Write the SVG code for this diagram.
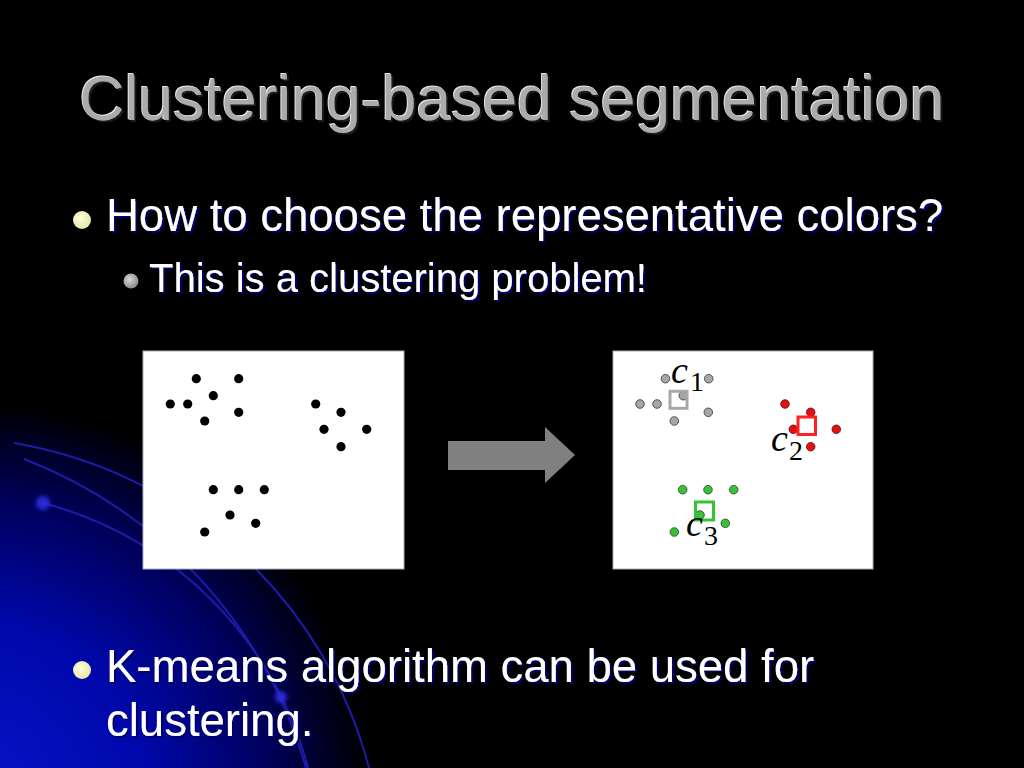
<svg xmlns="http://www.w3.org/2000/svg" width="1024" height="768" viewBox="0 0 1024 768">
  <defs>
    <radialGradient id="glow" gradientUnits="userSpaceOnUse" cx="-30" cy="800" r="400">
      <stop offset="0" stop-color="#0a14cc"/>
      <stop offset="0.45" stop-color="#0008aa"/>
      <stop offset="0.75" stop-color="#00005c"/>
      <stop offset="1" stop-color="#000000"/>
    </radialGradient>
    <radialGradient id="ybul" cx="0.4" cy="0.4" r="0.6">
      <stop offset="0" stop-color="#ffffe0"/>
      <stop offset="1" stop-color="#e6e6a6"/>
    </radialGradient>
    <radialGradient id="gbul" cx="0.4" cy="0.4" r="0.6">
      <stop offset="0" stop-color="#d8d8d8"/>
      <stop offset="1" stop-color="#8c8c8c"/>
    </radialGradient>
    <filter id="blur" x="-1" y="-1" width="3" height="3">
      <feGaussianBlur stdDeviation="2"/>
    </filter>
    <filter id="emboss" x="-0.05" y="-0.2" width="1.1" height="1.4">
      <feOffset in="SourceAlpha" dx="1.5" dy="1.5" result="sh0"/>
      <feFlood flood-color="#1a1a1a"/>
      <feComposite in2="sh0" operator="in" result="sh"/>
      <feOffset in="SourceAlpha" dx="-0.8" dy="-0.8" result="hl0"/>
      <feFlood flood-color="#e6e6e6"/>
      <feComposite in2="hl0" operator="in" result="hl"/>
      <feMerge>
        <feMergeNode in="sh"/>
        <feMergeNode in="hl"/>
        <feMergeNode in="SourceGraphic"/>
      </feMerge>
    </filter>
    <filter id="tshadow" x="-0.05" y="-0.2" width="1.1" height="1.4">
      <feDropShadow dx="2" dy="2" stdDeviation="0.6" flood-color="#00006e" flood-opacity="1"/>
    </filter>
  </defs>
  <style>
    .title { font-family: "Liberation Sans", Arial, sans-serif; font-size: 62.5px; fill: #ababab; }
    .body { font-family: "Liberation Sans", Arial, sans-serif; fill: #ffffff; }
    .arc { fill: none; stroke: #1c1ca8; stroke-width: 2; }
    .panel { fill: #ffffff; stroke: #b0b0b0; stroke-width: 1; }
    .bdot { fill: #000000; }
    .gdot { fill: #a6a6a6; stroke: #333333; stroke-width: 0.8; }
    .rdot { fill: #e41010; stroke: #551010; stroke-width: 0.8; }
    .vdot { fill: #3cbf3c; stroke: #1a4a1a; stroke-width: 0.8; }
    .sq { fill: none; stroke-width: 3; }
    .cvar { font-family: "Liberation Serif", "Times New Roman", serif; font-style: italic; font-size: 38px; fill: #000000; }
    .csub { font-family: "Liberation Serif", "Times New Roman", serif; font-size: 28px; fill: #000000; }
  </style>

  <!-- background -->
  <rect x="0" y="0" width="1024" height="768" fill="#000000"/>
  <rect x="0" y="380" width="460" height="388" fill="url(#glow)"/>
  <g id="orbits">
    <path class="arc" d="M 14 443 A 443 443 0 0 1 369 768"/>
    <path class="arc" d="M 24 459 A 469 469 0 0 1 306 768"/>
    <path class="arc" d="M 43 503 A 372 372 0 0 1 308 768"/>
    <circle cx="43" cy="503" r="7" fill="#2a2ad8" filter="url(#blur)"/>
    <circle cx="281" cy="697" r="6" fill="#2a2ad8" filter="url(#blur)"/>
  </g>

  <!-- title -->
  <g id="title">
    <text class="title" x="79.3" y="120" filter="url(#emboss)">Clustering-based segmentation</text>
  </g>

  <!-- bullets -->
  <g id="bullet1">
    <circle cx="82" cy="220" r="9" fill="url(#ybul)"/>
    <text class="body" x="106" y="231" font-size="45.5" filter="url(#tshadow)">How to choose the representative colors?</text>
  </g>
  <g id="bullet2">
    <circle cx="131" cy="281" r="7.5" fill="url(#gbul)"/>
    <text class="body" x="149" y="292" font-size="40" filter="url(#tshadow)">This is a clustering problem!</text>
  </g>
  <g id="bullet3">
    <circle cx="82" cy="670" r="9" fill="url(#ybul)"/>
    <text class="body" font-size="45.5" filter="url(#tshadow)"><tspan x="106" y="682">K-means algorithm can be used for</tspan><tspan x="106" y="736">clustering.</tspan></text>
  </g>

  <!-- left panel: unclustered points -->
  <g id="panel-points">
    <rect class="panel" x="143" y="351" width="261" height="218"/>
    <g class="bdot">
      <circle cx="196.3" cy="378.7" r="4.6"/>
      <circle cx="238.7" cy="378.7" r="4.6"/>
      <circle cx="213.3" cy="395.7" r="4.6"/>
      <circle cx="170.3" cy="404" r="4.6"/>
      <circle cx="187.7" cy="404" r="4.6"/>
      <circle cx="238.7" cy="412.3" r="4.6"/>
      <circle cx="204.7" cy="421" r="4.6"/>
      <circle cx="315.7" cy="404" r="4.6"/>
      <circle cx="341" cy="412.3" r="4.6"/>
      <circle cx="324" cy="429.3" r="4.6"/>
      <circle cx="366.7" cy="429.3" r="4.6"/>
      <circle cx="341" cy="446.7" r="4.6"/>
      <circle cx="213.3" cy="489.7" r="4.6"/>
      <circle cx="238.7" cy="489.7" r="4.6"/>
      <circle cx="264.3" cy="489.7" r="4.6"/>
      <circle cx="230" cy="515" r="4.6"/>
      <circle cx="255.7" cy="523.3" r="4.6"/>
      <circle cx="204.7" cy="532" r="4.6"/>
    </g>
  </g>

  <!-- arrow between panels -->
  <g id="connectors">
    <polygon points="448,441 545,441 545,427 575,455 545,483 545,470 448,470" fill="#808080"/>
  </g>

  <!-- right panel: clustered points -->
  <g id="panel-clusters">
    <rect class="panel" x="613" y="351" width="260" height="218"/>
    <g id="cluster1">
      <circle class="gdot" cx="665.5" cy="378.7" r="4.3"/>
      <circle class="gdot" cx="708.7" cy="378.7" r="4.3"/>
      <circle class="gdot" cx="683.3" cy="395.7" r="4.3"/>
      <circle class="gdot" cx="640" cy="404" r="4.3"/>
      <circle class="gdot" cx="657" cy="404" r="4.3"/>
      <circle class="gdot" cx="708.3" cy="412.3" r="4.3"/>
      <circle class="gdot" cx="674.3" cy="421" r="4.3"/>
      <rect class="sq" x="670" y="391.3" width="17" height="17" stroke="#a8a8a8"/>
      <text class="cvar" x="671" y="383">c</text>
      <text class="csub" x="690" y="391">1</text>
    </g>
    <g id="cluster2">
      <circle class="rdot" cx="785" cy="404" r="4.3"/>
      <circle class="rdot" cx="810.7" cy="412.3" r="4.3"/>
      <circle class="rdot" cx="793.3" cy="429.3" r="4.3"/>
      <circle class="rdot" cx="836.3" cy="429.3" r="4.3"/>
      <circle class="rdot" cx="810.7" cy="446.7" r="4.3"/>
      <rect class="sq" x="798" y="417" width="17.5" height="17.5" stroke="#ff2020"/>
      <text class="cvar" x="771" y="451">c</text>
      <text class="csub" x="789" y="460">2</text>
    </g>
    <g id="cluster3">
      <circle class="vdot" cx="682.7" cy="489.7" r="4.3"/>
      <circle class="vdot" cx="708" cy="489.7" r="4.3"/>
      <circle class="vdot" cx="733.7" cy="489.7" r="4.3"/>
      <circle class="vdot" cx="700" cy="515" r="4.3"/>
      <circle class="vdot" cx="725.3" cy="523.3" r="4.3"/>
      <circle class="vdot" cx="674.3" cy="532" r="4.3"/>
      <rect class="sq" x="695.5" y="502" width="18" height="18" stroke="#33c433"/>
      <text class="cvar" x="686" y="536">c</text>
      <text class="csub" x="704" y="545">3</text>
    </g>
  </g>
</svg>
